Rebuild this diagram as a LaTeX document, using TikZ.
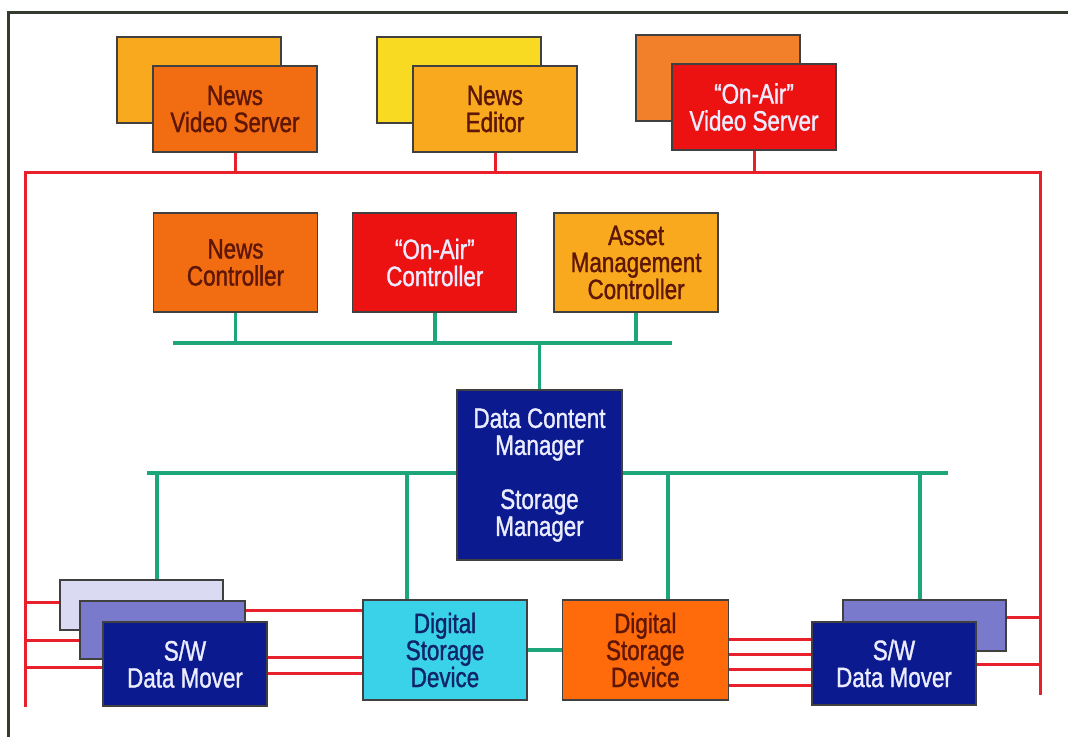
\documentclass[tikz,border=0pt]{standalone}
\usepackage{fontspec}
\setmainfont{Liberation Sans}[FakeStretch=0.8, FakeBold=1.2]
\usetikzlibrary{positioning}

\definecolor{netred}{HTML}{E8202C}
\definecolor{netgreen}{HTML}{1CA67A}
\definecolor{deeporange}{HTML}{F26C12}
\definecolor{amber}{HTML}{F8A91E}
\definecolor{sunyellow}{HTML}{F8DA22}
\definecolor{lightorange}{HTML}{F27F2A}
\definecolor{airred}{HTML}{EC1212}
\definecolor{dcmblue}{HTML}{0B1A8E}
\definecolor{cyanbox}{HTML}{3AD2E8}
\definecolor{dsdorange}{HTML}{FF6A0A}
\definecolor{lavender}{HTML}{DADAF2}
\definecolor{midblue}{HTML}{7A7ACC}
\definecolor{darkbrown}{HTML}{5E1606}
\definecolor{dsdnavy}{HTML}{102468}
\definecolor{boxwhite}{HTML}{ECECFF}
\definecolor{framegray}{HTML}{343C30}

\begin{document}
\begin{tikzpicture}[
    x=1pt, y=-1pt,
    box/.style={rectangle, draw=black!75, line width=1.3pt, minimum width=164pt, minimum height=86pt, inner sep=0pt, align=center, font=\fontsize{28}{27}\selectfont},
    redline/.style={draw=netred, line width=3pt},
    greenline/.style={draw=netgreen, line width=3.5pt}
]
    \useasboundingbox (0,0) rectangle (1068,737);
    \draw[framegray, line width=3pt] (1068,12) -- (8,12) -- (8,737);

    % servers and editor (two boxes each)
    \node[box, fill=amber] (nvsback) at (199,80) {};
    \node[box, fill=deeporange, text=darkbrown, xshift=36pt, yshift=-29pt] (nvs) at (nvsback) {News\\Video Server};
    \node[box, fill=sunyellow] (neback) at (459,80) {};
    \node[box, fill=amber, text=darkbrown, xshift=36pt, yshift=-29pt] (ne) at (neback) {News\\Editor};
    \node[box, fill=lightorange] (oavsback) at (718,78) {};
    \node[box, fill=airred, text=boxwhite, xshift=36pt, yshift=-29pt] (oavs) at (oavsback) {``On-Air''\\Video Server};

    % controllers
    \node[box, minimum height=99pt, fill=deeporange, text=darkbrown] (nctl) at (235.5,262.5) {News\\Controller};
    \node[box, minimum height=99pt, fill=airred, text=boxwhite, right=34pt of nctl] (octl) {``On-Air''\\Controller};
    \node[box, minimum height=99pt, fill=amber, text=darkbrown, right=36pt of octl] (actl) {Asset\\Management\\Controller};

    \node[box, minimum width=165pt, minimum height=170pt, fill=dcmblue, text=boxwhite] (dcm) at (539.5,475) {Data Content\\Manager\\[27pt]Storage\\Manager};

    % data movers and storage
    \node[box, minimum width=163pt, minimum height=50pt, fill=lavender] (swla) at (141.5,605) {};
    \node[box, minimum width=165pt, minimum height=58pt, fill=midblue] (swlb) at (162.5,630) {};
    \node[box, minimum height=84pt, fill=dcmblue, text=boxwhite] (swl) at (185,664) {S/W\\Data Mover};
    \node[box, minimum height=100pt, fill=cyanbox, text=dsdnavy] (dsd1) at (445,650) {Digital\\Storage\\Device};
    \node[box, minimum width=166pt, minimum height=100pt, fill=dsdorange, text=darkbrown, right=34pt of dsd1] (dsd2) {Digital\\Storage\\Device};
    \node[box, minimum width=163pt, minimum height=51pt, fill=midblue] (swrb) at (924.5,625.5) {};
    \node[box, minimum height=83pt, fill=dcmblue, text=boxwhite] (swr) at (894,663.5) {S/W\\Data Mover};

    % red network
    \coordinate (rtl) at (25,172);
    \coordinate (rtr) at (1040,172);
    \coordinate (rbl) at (25,707);
    \coordinate (rbr) at (1040,695);
    \draw[redline] (rbl) -- (rtl) -- (rtr) -- (rbr);
    \draw[redline] (nvs.south) -- (nvs.south |- rtl);
    \draw[redline] (ne.south) -- (ne.south |- rtl);
    \draw[redline] (oavs.south) -- (oavs.south |- rtl);
    \draw[redline] (swla.west |- 0,602) -- (rtl |- 0,602);
    \draw[redline] (swlb.west |- 0,640) -- (rtl |- 0,640);
    \draw[redline] (swl.west |- 0,667) -- (rtl |- 0,667);
    \draw[redline] (swlb.east |- 0,610) -- (dsd1.west |- 0,610);
    \draw[redline] (swl.east |- 0,657) -- (dsd1.west |- 0,657);
    \draw[redline] (swl.east |- 0,673) -- (dsd1.west |- 0,673);
    \foreach \yy in {639,654,669,685}
        \draw[redline] (dsd2.east |- 0,\yy) -- (swr.west |- 0,\yy);
    \draw[redline] (swrb.east |- 0,617) -- (rtr |- 0,617);
    \draw[redline] (swr.east |- 0,664) -- (rtr |- 0,664);

    % green control bus
    \coordinate (gtl) at (173,343);
    \coordinate (gtr) at (672,343);
    \draw[greenline] (gtl) -- (gtr);
    \draw[greenline] (nctl.south) -- (nctl.south |- gtl);
    \draw[greenline] (octl.south) -- (octl.south |- gtl);
    \draw[greenline] (actl.south) -- (actl.south |- gtl);
    \draw[greenline] (dcm.north) -- (dcm.north |- gtl);

    % green storage bus
    \coordinate (gbl) at (147,473);
    \coordinate (gbr) at (948,473);
    \draw[greenline] (gbl) -- (gbl -| dcm.west);
    \draw[greenline] (gbr -| dcm.east) -- (gbr);
    \draw[greenline] (swla.north -| 157,0) -- (gbl -| 157,0);
    \draw[greenline] (dsd1.north -| 407,0) -- (gbl -| 407,0);
    \draw[greenline] (dsd2.north -| 668,0) -- (gbl -| 668,0);
    \draw[greenline] (swrb.north -| 920,0) -- (gbl -| 920,0);
    \draw[greenline] (dsd1.east) -- (dsd2.west);
\end{tikzpicture}
\end{document}
